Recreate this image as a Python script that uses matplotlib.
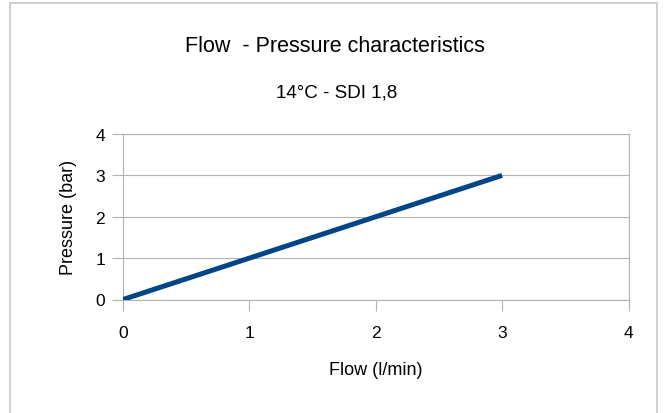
import numpy as np
import matplotlib.pyplot as plt
from matplotlib.patches import Rectangle

plt.rcParams['font.family'] = ['Liberation Sans', 'DejaVu Sans']

# data
flow = [0, 3]
pressure = [0, 3]
xticks = [0, 1, 2, 3, 4]
yticks = [0, 1, 2, 3, 4]

fig = plt.figure(figsize=(6.64, 4.14), dpi=100)
ax = fig.add_axes([123/664, 1 - 300.5/414, (628.5 - 123)/664, (300.5 - 135)/414])

grey = '#b3b3b3'
ax.plot(flow, pressure, color='#004586', linewidth=3.6, solid_capstyle='butt', zorder=3)

ax.set_xlim(0, 4)
ax.set_ylim(0, 4)
ax.set_xticks(xticks)
ax.set_yticks(yticks)
ax.yaxis.grid(True, color=grey, linewidth=0.8)
ax.set_axisbelow(True)
for s in ax.spines.values():
    s.set_color(grey)
    s.set_linewidth(0.8)
ax.tick_params(axis='both', direction='out', length=8, width=0.8, color=grey,
               labelsize=12.5, labelcolor='black')
ax.tick_params(axis='x', pad=10.5)
ax.tick_params(axis='y', pad=5)

ax.set_xlabel('Flow (l/min)', fontsize=13, labelpad=15)
ax.set_ylabel('Pressure (bar)', fontsize=13, labelpad=13)

fig.text(335/664, 1 - 52/414, 'Flow  - Pressure characteristics', fontsize=15.5,
         ha='center', va='baseline')
fig.text(337/664, 1 - 98/414, '14°C - SDI 1,8', fontsize=13.5,
         ha='center', va='baseline')

# outer chart border
fig.patches.append(Rectangle((10/664, -0.05), (657 - 10)/664, 1.05 - 4/414,
                             transform=fig.transFigure, fill=False,
                             edgecolor='#c8c8c8', linewidth=1.2))

fig.savefig('out.png', dpi=100)
